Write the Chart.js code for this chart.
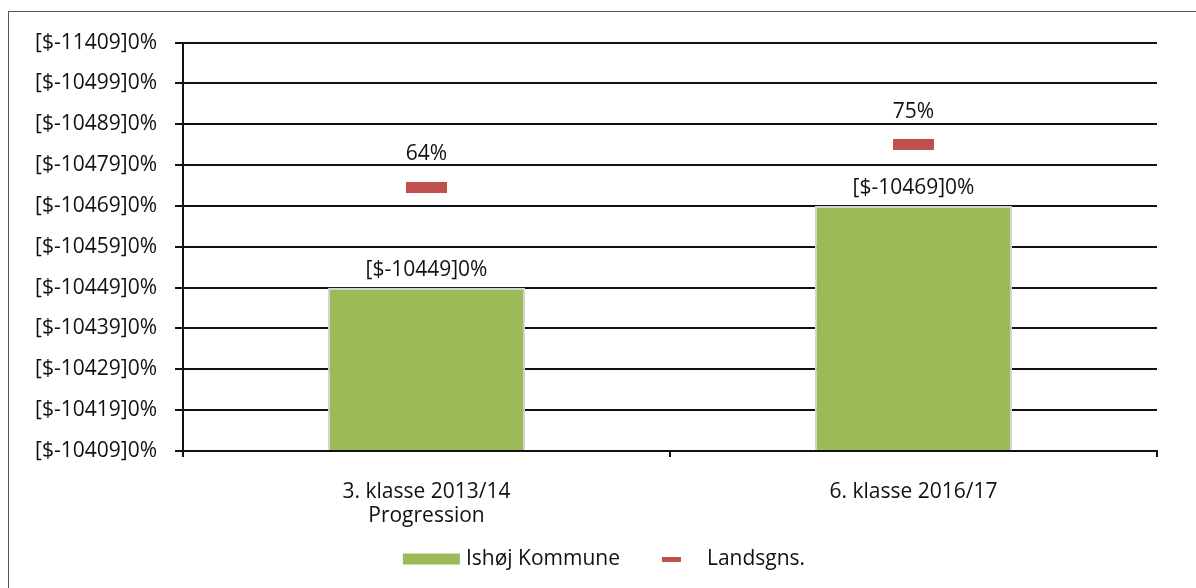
<!DOCTYPE html>
<html>
<head>
<meta charset="utf-8">
<script src="https://cdn.jsdelivr.net/npm/chart.js@4.4.1/dist/chart.umd.min.js"></script>
<style>
  html, body { margin: 0; padding: 0; background: #fff; overflow: hidden; }
  #frame {
    position: absolute; left: 8px; top: 11px;
    width: 1190px; height: 576px;
    border-left: 1px solid #555; border-top: 1px solid #555;
  }
</style>
</head>
<body>
<div id="frame"><canvas id="chart"></canvas></div>
<script>
// data
const categories = [["3. klasse 2013/14", "Progression"], "6. klasse 2016/17"];
const kommuneValues = [40, 60];
const kommuneLabels = ["[$-10449]0%", "[$-10469]0%"];
const landsValues = [64.6, 75];
const landsLabels = ["64%", "75%"];
const yTickLabels = [
  "[$-10409]0%", "[$-10419]0%", "[$-10429]0%", "[$-10439]0%", "[$-10449]0%",
  "[$-10459]0%", "[$-10469]0%", "[$-10479]0%", "[$-10489]0%", "[$-10499]0%",
  "[$-11409]0%"
];

const GREEN = "#9BBB59";
const RED = "#C0504D";
const FONT = "'Open Sans', sans-serif";
const TEXT = "#111";

function rectImage(w, h, color) {
  const c = document.createElement("canvas");
  c.width = w; c.height = h;
  const g = c.getContext("2d");
  g.fillStyle = color;
  g.fillRect(0, 0, w, h);
  return c;
}

const markerImg = rectImage(41, 11, RED);

// value labels above bars and markers
const valueLabels = {
  id: "valueLabels",
  afterDatasetsDraw(chart) {
    const ctx = chart.ctx;
    ctx.save();
    ctx.font = "21px " + FONT;
    ctx.fillStyle = TEXT;
    ctx.textAlign = "center";
    ctx.textBaseline = "middle";
    chart.getDatasetMeta(0).data.forEach((el, i) => {
      ctx.fillText(kommuneLabels[i], el.x, el.y - 18);
    });
    chart.getDatasetMeta(1).data.forEach((el, i) => {
      ctx.fillText(landsLabels[i], el.x, el.y - 33);
    });
    ctx.restore();
  }
};

// legend row at the bottom: green box for the bars, short red dash for the markers
const bottomLegend = {
  id: "bottomLegend",
  afterDraw(chart) {
    const ctx = chart.ctx;
    const sets = chart.data.datasets;
    ctx.save();
    ctx.font = "21px " + FONT;
    ctx.textBaseline = "middle";
    ctx.textAlign = "left";
    const w1 = ctx.measureText(sets[0].label).width;
    const w2 = ctx.measureText(sets[1].label).width;
    const total = 57 + 6 + w1 + 42 + 19 + 26 + w2;
    let x = (chart.width - total) / 2;
    const cy = 547;
    ctx.fillStyle = GREEN;
    ctx.fillRect(x, cy - 5.5, 57, 11);
    x += 63;
    ctx.fillStyle = TEXT;
    ctx.fillText(sets[0].label, x, cy);
    x += w1 + 42;
    ctx.fillStyle = RED;
    ctx.fillRect(x, cy - 2, 19, 5);
    x += 45;
    ctx.fillStyle = TEXT;
    ctx.fillText(sets[1].label, x, cy);
    ctx.restore();
  }
};

Chart.defaults.font.family = FONT;
Chart.defaults.font.size = 21;
Chart.defaults.color = TEXT;

new Chart(document.getElementById("chart"), {
  type: "bar",
  data: {
    labels: categories,
    datasets: [
      {
        label: "Ishøj Kommune",
        data: kommuneValues,
        backgroundColor: GREEN,
        borderColor: "#d4d4d4",
        borderWidth: 2,
        borderSkipped: "bottom",
        categoryPercentage: 1,
        barPercentage: 0.405,
        order: 2
      },
      {
        type: "line",
        label: "Landsgns.",
        data: landsValues,
        showLine: false,
        pointStyle: markerImg,
        pointRadius: 10,
        pointHoverRadius: 10,
        order: 1
      }
    ]
  },
  options: {
    responsive: true,
    maintainAspectRatio: false,
    animation: false,
    layout: { padding: { left: 0, right: 42, top: 28, bottom: 47 } },
    plugins: {
      tooltip: { enabled: false },
      legend: { display: false }
    },
    scales: {
      x: {
        offset: true,
        grid: {
          offset: true,
          drawOnChartArea: false,
          drawTicks: true,
          tickLength: 6,
          color: "#111",
          lineWidth: 2
        },
        border: { color: "#111", width: 2 },
        ticks: { padding: 23, font: { size: 21, lineHeight: 1.15 } },
        afterFit(scale) { scale.height = 90; }
      },
      y: {
        min: 0,
        max: 100,
        grid: { color: "#111", lineWidth: 2, tickLength: 8 },
        border: { color: "#111", width: 2 },
        ticks: {
          stepSize: 10,
          padding: 18,
          font: { size: 21 },
          callback: (v, i) => yTickLabels[i]
        },
        afterFit(scale) { scale.width = 174; }
      }
    }
  },
  plugins: [valueLabels, bottomLegend]
});
</script>
</body>
</html>
